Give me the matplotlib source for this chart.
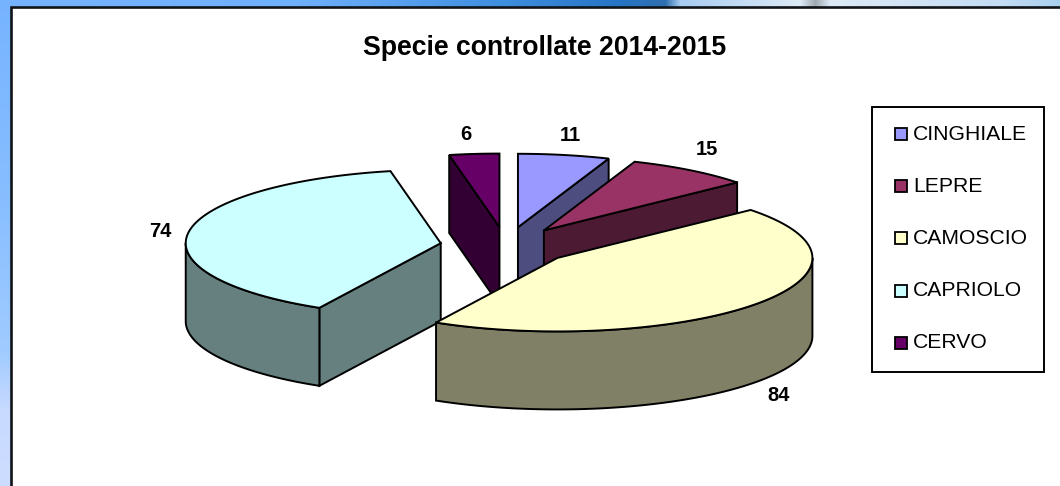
import numpy as np
import matplotlib
matplotlib.use("Agg")
import matplotlib.pyplot as plt
from matplotlib.patches import Polygon, Rectangle
from matplotlib.colors import to_rgb

# Data
categories = ["CINGHIALE", "LEPRE", "CAMOSCIO", "CAPRIOLO", "CERVO"]
values = [11, 15, 84, 74, 6]
title = "Specie controllate 2014-2015"

# Style / layout
top_colors = ["#9999FF", "#993366", "#FFFFCC", "#CCFFFF", "#660066"]
side_colors = ["#4D4D80", "#4D1A33", "#808066", "#668080", "#330033"]
draw_order = [4, 0, 1, 3, 2]
CX, CY = 506, 246
RX, RY = 255, 73.5
DEPTH = 78
EXPLODE = 66 / 255
label_xy = [(570, 135), (707, 149), (779, 395), (160, 231), (466, 134)]
FONT = "Liberation Sans"
W, H = 1060, 486

fig = plt.figure(figsize=(W / 100, H / 100), dpi=100)
ax = fig.add_axes([0, 0, 1, 1])
ax.set_xlim(0, W)
ax.set_ylim(H, 0)
ax.axis("off")

# Slide background behind the chart frame
def hexrgb(c):
    return np.array(to_rgb(c))
top_x = [0, 300, 500, 620, 665, 680, 800, 815, 830, 1000, 1060]
top_c = ["#76B3FF", "#6FB0FB", "#3F8FE0", "#2674C4", "#2F70B0", "#A8CCF2", "#DDEAF6", "#A0A8B0", "#DDEAF6", "#C4DCF4", "#A8D0EE"]
left_y = [0, 200, 350, 410, 486]
left_c = ["#76B3FF", "#88BEFF", "#A0CBFF", "#C8DAFF", "#CCDDFF"]
strip = np.stack([np.interp(np.arange(W), top_x, [hexrgb(c)[i] for c in top_c]) for i in range(3)], axis=1)[None, :, :]
ax.imshow(strip, extent=(0, W, 7, 0), aspect="auto", zorder=0)
lstrip = np.stack([np.interp(np.arange(H), left_y, [hexrgb(c)[i] for c in left_c]) for i in range(3)], axis=1)[:, None, :]
ax.imshow(lstrip, extent=(0, 11, H, 0), aspect="auto", zorder=0.5)
ax.set_xlim(0, W)
ax.set_ylim(H, 0)

# White chart frame, running off the right and bottom edges
ax.add_patch(Rectangle((10.5, 7), W + 20, H + 20, fc="white", ec="#101418", lw=1.9, zorder=1))

# Exploded 3D pie, clockwise from 12 o'clock
values_arr = np.array(values, dtype=float)
edges = np.concatenate([[0], np.cumsum(values_arr)]) / values_arr.sum() * 2 * np.pi

def pt(a, r=1.0):
    return np.array([RX * r * np.sin(a), -RY * r * np.cos(a)])

z = 2.0
LW = 1.4
for i in draw_order:
    a0, a1 = edges[i], edges[i + 1]
    mid = (a0 + a1) / 2
    apex = np.array([CX, CY]) + pt(mid, EXPLODE)
    down = np.array([0, DEPTH])
    arc = np.array([apex + pt(a) for a in np.linspace(a0, a1, 120)])

    # Flat cut faces that turn towards the viewer
    if np.cos(a0 - np.pi / 2) < 0:
        p = apex + pt(a0)
        ax.add_patch(Polygon([apex, p, p + down, apex + down], fc=side_colors[i], ec="black", lw=LW, joinstyle="miter", zorder=z))
    if np.cos(a1 + np.pi / 2) < 0:
        p = apex + pt(a1)
        ax.add_patch(Polygon([apex, p, p + down, apex + down], fc=side_colors[i], ec="black", lw=LW, joinstyle="miter", zorder=z))

    # Front part of the rim
    lo, hi = max(a0, np.pi / 2), min(a1, 3 * np.pi / 2)
    if hi > lo:
        rim = np.array([apex + pt(a) for a in np.linspace(lo, hi, 120)])
        ax.add_patch(Polygon(np.vstack([rim, rim[::-1] + down]), fc=side_colors[i], ec="black", lw=LW, joinstyle="miter", zorder=z))

    # Top face
    ax.add_patch(Polygon(np.vstack([[apex], arc]), fc=top_colors[i], ec="black", lw=LW, joinstyle="miter", zorder=z + 0.1))
    z += 1

# Value labels
for v, (x, y) in zip(values, label_xy):
    ax.text(x, y, str(v), ha="center", va="center", fontsize=14.5, fontweight="bold", family=FONT, color="black", zorder=20)

# Title
ax.text(545, 48, title, ha="center", va="center", fontsize=19.2, fontweight="bold", family=FONT, color="black", zorder=20)

# Legend
ax.add_patch(Rectangle((872, 107), 172, 265, fc="white", ec="black", lw=1.4, zorder=20))
for i, name in enumerate(categories):
    y = 134 + i * 52.2
    ax.add_patch(Rectangle((895, y - 6), 12, 12, fc=top_colors[i], ec="black", lw=1.3, zorder=21))
    ax.text(913, y, name, ha="left", va="center", fontsize=15.2, family=FONT, color="black", zorder=21)

fig.savefig("out.png", dpi=100)
